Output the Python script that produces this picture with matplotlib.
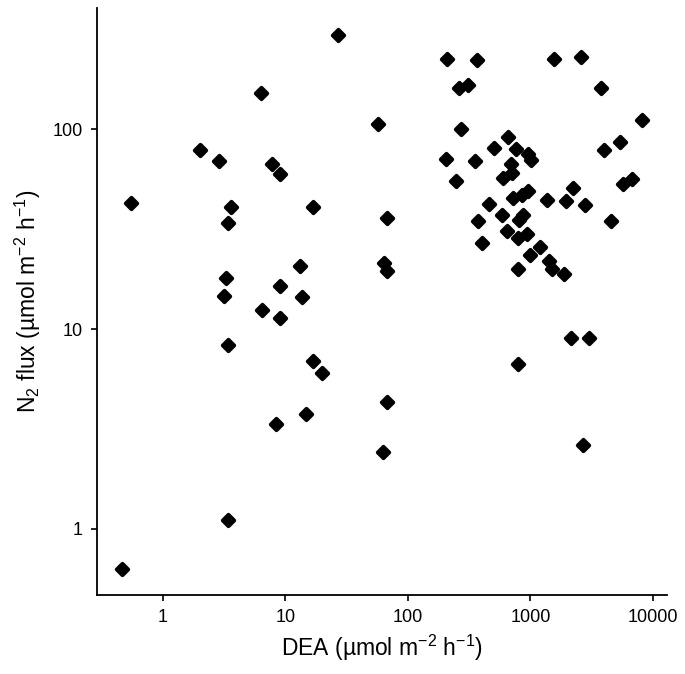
import numpy as np
import matplotlib
matplotlib.use('Agg')
import matplotlib.pyplot as plt

plt.rcParams['font.family'] = ['Liberation Sans', 'DejaVu Sans']
plt.rcParams['mathtext.fontset'] = 'custom'
plt.rcParams['mathtext.rm'] = 'Liberation Sans'
plt.rcParams['mathtext.default'] = 'regular'

'''
DATA (read off the figure)
'''
dea = [27.0, 6.28, 57.3, 2.03, 2.90, 7.86, 9.02, 0.551, 3.64, 3.41,
       16.7, 67.0, 13.1, 3.27, 9.02, 64.5, 67.0, 3.18, 13.6, 6.43,
       9.02, 3.41, 16.7, 19.8, 67.0, 14.7, 8.48, 62.9, 3.41, 0.469,
       2140, 3000, 795, 2700, 207, 364, 1556, 2600, 262, 311,
       3740, 8180, 271, 659, 504, 762, 959, 1009, 5380, 4000,
       203, 352, 689, 702, 600, 247, 2210, 6780, 5720, 959,
       848, 724, 461, 1377, 1950, 2786, 591, 868, 811, 375,
       4540, 649, 931, 791, 400, 1202, 985, 1408, 1513, 791,
       1888]
n2_flux = [298, 152, 106, 78.7, 69.8, 67.2, 59.7, 42.7, 40.7, 34.1,
           40.7, 36.0, 20.8, 18.1, 16.4, 21.4, 19.6, 14.6, 14.4, 12.4,
           11.4, 8.33, 6.95, 6.05, 4.31, 3.76, 3.34, 2.42, 1.10, 0.626,
           9.00, 9.00, 6.69, 2.63, 226, 222, 226, 230, 161, 166,
           161, 112, 100, 91.4, 80.5, 80.1, 75.4, 70.4, 86.9, 78.7,
           71.4, 69.8, 66.9, 60.2, 57.0, 55.2, 50.8, 56.5, 53.1, 49.4,
           47.0, 45.2, 42.4, 44.3, 43.6, 41.9, 37.2, 37.4, 35.1, 34.9,
           34.9, 30.9, 29.9, 28.5, 27.0, 25.9, 23.4, 21.9, 19.9, 19.9,
           18.8]

xticks = [1, 10, 100, 1000, 10000]
yticks = [1, 10, 100]

fig = plt.figure(figsize=(6.85, 6.74), dpi=100)
ax = fig.add_axes([0.1416, 0.1172, 0.832, 0.871])

# rounded diamonds, like ggplot shape 18
ax.scatter(dea, n2_flux, marker='D', s=34, c='black',
           edgecolors='black', linewidths=2.8, joinstyle='round', zorder=3)

ax.set_xscale('log')
ax.set_yscale('log')
ax.set_xlim(0.291, 13000)
ax.set_ylim(0.465, 406)

ax.set_xticks(xticks)
ax.set_xticklabels([str(t) for t in xticks])
ax.set_yticks(yticks)
ax.set_yticklabels([str(t) for t in yticks])
ax.minorticks_off()

for s in ['top', 'right']:
    ax.spines[s].set_visible(False)
for s in ['left', 'bottom']:
    ax.spines[s].set_linewidth(1.3)
ax.tick_params(axis='both', length=4, width=1.2, labelsize=13,
               colors='black', pad=6)

ax.set_xlabel('DEA (µmol m$^{-2}$ h$^{-1}$)', fontsize=16.5, labelpad=5)
ax.set_ylabel('N$_2$ flux (µmol m$^{-2}$ h$^{-1}$)', fontsize=16.5, labelpad=7)

fig.savefig('out.png', dpi=100)
